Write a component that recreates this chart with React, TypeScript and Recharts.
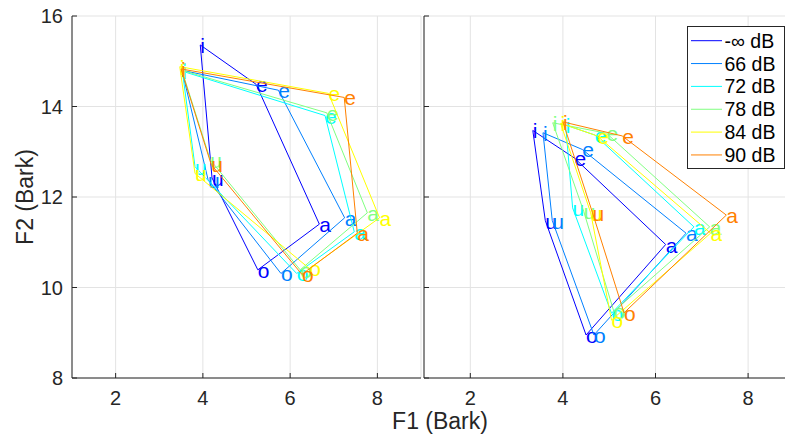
import React from 'react';
import { ScatterChart, Scatter, XAxis, YAxis, CartesianGrid, Legend } from 'recharts';

// ---------- data ----------
const vowels = ['i', 'e', 'a', 'o', 'u'];
const levels = ['-\u221E dB', '66 dB', '72 dB', '78 dB', '84 dB', '90 dB'];
const colors = ['#0000FF', '#0080FF', '#00FFFF', '#80FF80', '#FFFF00', '#FF8000'];
const xTicks = [2, 4, 6, 8];
const yTicks = [8, 10, 12, 14, 16];

// left panel: rows = levels, columns = vowels (i, e, a, o, u)
const leftF1 = [
  [3.94, 5.22, 6.67, 5.26, 4.21],
  [3.52, 5.73, 7.25, 5.79, 4.12],
  [3.53, 6.8, 7.47, 6.15, 3.82],
  [3.52, 6.84, 7.77, 6.23, 4.17],
  [3.47, 6.88, 8.05, 6.44, 3.82],
  [3.5, 7.24, 7.54, 6.27, 4.19],
];
const leftF2 = [
  [15.36, 14.49, 11.4, 10.39, 12.42],
  [14.8, 14.36, 11.54, 10.31, 12.38],
  [14.78, 13.8, 11.23, 10.31, 12.67],
  [14.8, 13.86, 11.65, 10.39, 12.82],
  [14.88, 14.29, 11.54, 10.42, 12.52],
  [14.83, 14.2, 11.2, 10.29, 12.72],
];
// right panel
const rightF1 = [
  [3.35, 4.25, 6.22, 4.5, 3.62],
  [3.57, 4.42, 6.66, 4.67, 3.77],
  [4.06, 4.69, 6.83, 5.05, 4.21],
  [3.78, 4.94, 7.17, 5.1, 4.45],
  [3.95, 4.74, 7.19, 5.05, 4.6],
  [4.0, 5.28, 7.53, 5.32, 4.64],
];
const rightF2 = [
  [13.47, 12.86, 10.95, 8.95, 11.48],
  [13.42, 13.05, 11.2, 8.95, 11.48],
  [13.59, 13.37, 11.34, 9.43, 11.76],
  [13.64, 13.41, 11.34, 9.47, 11.68],
  [13.63, 13.35, 11.2, 9.28, 11.65],
  [13.66, 13.35, 11.6, 9.44, 11.65],
];

// ---------- style ----------
const FONT = '"Liberation Sans", Arial, Helvetica, sans-serif';
const AX = '#262626';
const GRID = '#E3E3E3';
const TICK_FS = 20;
const VOWEL_FS = 21;

function polygon(f1: number[], f2: number[]) {
  const pts = vowels.map((v, k) => ({ x: f1[k], y: f2[k], v }));
  pts.push({ x: f1[0], y: f2[0], v: '' }); // close the polygon
  return pts;
}

const VowelLabel = (props: any) => {
  const { cx, cy, payload, fill } = props;
  if (!payload || !payload.v) return <g />;
  return (
    <text x={cx} y={cy + 8} fontSize={VOWEL_FS} fontFamily={FONT} fill={fill}>
      {payload.v}
    </text>
  );
};

const BottomTick = (props: any) => {
  const { x, y, payload, showLabel } = props;
  return (
    <g>
      <line x1={x} y1={y} x2={x} y2={y - 5} stroke={AX} strokeWidth={1} />
      {showLabel ? (
        <text x={x} y={y + 27} textAnchor="middle" fontSize={TICK_FS} fontFamily={FONT} fill={AX}>
          {payload.value}
        </text>
      ) : null}
    </g>
  );
};
const TopTick = (props: any) => {
  const { x, y } = props;
  return <line x1={x} y1={y} x2={x} y2={y + 5} stroke={AX} strokeWidth={1} />;
};
const LeftTick = (props: any) => {
  const { x, y, payload, showLabel } = props;
  return (
    <g>
      <line x1={x} y1={y} x2={x + 5} y2={y} stroke={AX} strokeWidth={1} />
      {showLabel ? (
        <text x={x - 9} y={y + 7} textAnchor="end" fontSize={TICK_FS} fontFamily={FONT} fill={AX}>
          {payload.value}
        </text>
      ) : null}
    </g>
  );
};
const RightTick = (props: any) => {
  const { x, y } = props;
  return <line x1={x} y1={y} x2={x - 5} y2={y} stroke={AX} strokeWidth={1} />;
};

const LegendBox = () => (
  <svg width={98} height={143} style={{ display: 'block' }}>
    <rect x={0.5} y={0.5} width={97} height={142} fill="#FFFFFF" stroke={AX} strokeWidth={1} />
    {levels.map((name, k) => {
      const cy = 14.7 + k * 22.85;
      return (
        <g key={name}>
          <line x1={4} y1={cy} x2={35} y2={cy} stroke={colors[k]} strokeWidth={1} />
          <text x={37.5} y={cy + 7} fontSize={19.5} fontFamily={FONT} fill="#000000">
            {name}
          </text>
        </g>
      );
    })}
  </svg>
);

function Panel(props: {
  f1: number[][];
  f2: number[][];
  width: number;
  yAxisWidth: number;
  marginRight: number;
  isLeft: boolean;
}) {
  const { f1, f2, width, yAxisWidth, marginRight, isLeft } = props;
  return (
    <ScatterChart
      width={width}
      height={435}
      margin={{ top: 16, right: marginRight, bottom: 0, left: 0 }}
      style={{ fontFamily: FONT }}
    >
      <CartesianGrid stroke={GRID} strokeWidth={1} />
      <XAxis
        type="number"
        dataKey="x"
        domain={[1, 9]}
        ticks={xTicks}
        allowDataOverflow
        height={57}
        tickSize={0}
        tickMargin={0}
        stroke={AX}
        tickLine={false}
        tick={<BottomTick showLabel />}
        interval={0}
        label={
          isLeft
            ? undefined
            : () => (
                <text x={140} y={429} textAnchor="middle" fontSize={23} fontFamily={FONT} fill={AX}>
                  F1 (Bark)
                </text>
              )
        }
      />
      <XAxis
        xAxisId="top"
        orientation="top"
        type="number"
        dataKey="x"
        domain={[1, 9]}
        ticks={xTicks}
        allowDataOverflow
        height={0}
        tickSize={0}
        tickMargin={0}
        stroke={AX}
        tickLine={false}
        tick={<TopTick />}
        interval={0}
      />
      <YAxis
        type="number"
        dataKey="y"
        domain={[8, 16]}
        ticks={yTicks}
        allowDataOverflow
        width={yAxisWidth}
        tickSize={0}
        tickMargin={0}
        stroke={AX}
        tickLine={false}
        tick={<LeftTick showLabel={isLeft} />}
        interval={0}
        label={
          isLeft
            ? () => (
                <text
                  x={25}
                  y={197}
                  transform="rotate(-90 25 197)"
                  textAnchor="middle"
                  dominantBaseline="central"
                  fontSize={23}
                  fontFamily={FONT}
                  fill={AX}
                >
                  F2 (Bark)
                </text>
              )
            : undefined
        }
      />
      <YAxis
        yAxisId="right"
        orientation="right"
        type="number"
        dataKey="y"
        domain={[8, 16]}
        ticks={yTicks}
        allowDataOverflow
        width={0}
        tickSize={0}
        tickMargin={0}
        stroke={AX}
        tickLine={false}
        tick={<RightTick />}
        interval={0}
      />
      {levels.map((name, k) => (
        <Scatter
          key={name}
          name={name}
          data={polygon(f1[k], f2[k])}
          fill={colors[k]}
          line={{ stroke: colors[k], strokeWidth: 1 }}
          shape={<VowelLabel />}
          isAnimationActive={false}
        />
      ))}
      {!isLeft ? (
        <Legend
          layout="horizontal"
          verticalAlign="middle"
          align="center"
          wrapperStyle={{ position: 'absolute', left: 386.5, top: 26, width: 98, height: 143 }}
          content={() => <LegendBox />}
        />
      ) : null}
    </ScatterChart>
  );
}

export default function App() {
  return (
    <div
      style={{
        position: 'absolute',
        left: 0,
        top: 0,
        width: 785,
        height: 435,
        overflow: 'hidden',
        background: '#FFFFFF',
        fontFamily: FONT,
      }}
    >
      <div style={{ position: 'absolute', left: 0, top: 0 }}>
        <Panel f1={leftF1} f2={leftF2} width={425} yAxisWidth={72} marginRight={4} isLeft />
      </div>
      <div style={{ position: 'absolute', left: 300, top: 0 }}>
        <Panel f1={rightF1} f2={rightF2} width={500} yAxisWidth={124} marginRight={5.6} isLeft={false} />
      </div>
    </div>
  );
}
